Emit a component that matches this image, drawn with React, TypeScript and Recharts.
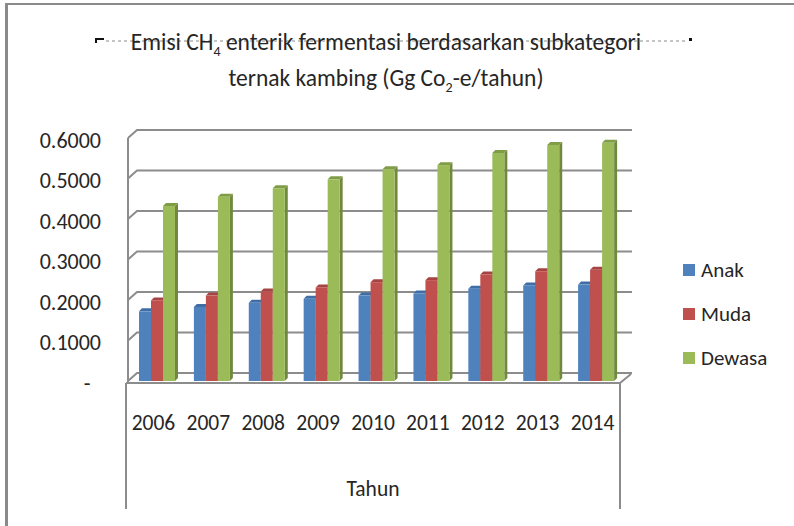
import React from 'react';
import { BarChart, Bar, XAxis, YAxis, CartesianGrid, Customized } from 'recharts';

// data
const years = ['2006', '2007', '2008', '2009', '2010', '2011', '2012', '2013', '2014'];
const anak = [0.172, 0.183, 0.193, 0.203, 0.211, 0.216, 0.228, 0.236, 0.238];
const muda = [0.199, 0.211, 0.221, 0.231, 0.244, 0.249, 0.263, 0.271, 0.275];
const dewasa = [0.432, 0.455, 0.476, 0.498, 0.523, 0.533, 0.563, 0.583, 0.588];
const yTicks = [0, 0.1, 0.2, 0.3, 0.4, 0.5, 0.6];

const SERIES = [
  { key: 'Anak', values: anak, color: '#4F81BD', side: '#385D8A', top: '#3F6DA5' },
  { key: 'Muda', values: muda, color: '#C0504D', side: '#8C3836', top: '#A54442' },
  { key: 'Dewasa', values: dewasa, color: '#9BBB59', side: '#71893F', top: '#7F9C47' },
];

const data = years.map((year, i) => {
  const row: Record<string, string | number> = { year };
  SERIES.forEach(s => { row[s.key] = s.values[i]; });
  return row;
});

const W = 794;
const H = 526;
const PLOT = { left: 126, right: 620, top: 138, bottom: 381 };
const XAXIS_H = 30;
const FONT = 'Carlito, Calibri, Lato, sans-serif';
const GRID = '#8C8C8C';
const TEXT = '#262626';
const SHIFT = 4; // 3d offset of the front faces
const DEPTH = 3;

const make3dBar = (s: typeof SERIES[number]) => (props: any) => {
  const { x, y, width, height } = props;
  if (height == null || height <= 0) return <g />;
  const fx = x + SHIFT;
  return (
    <g>
      <polygon
        points={`${fx + width},${y} ${fx + width + DEPTH},${y - DEPTH} ${fx + width + DEPTH},${y + height - DEPTH} ${fx + width},${y + height}`}
        fill={s.side}
      />
      <polygon
        points={`${fx},${y} ${fx + DEPTH},${y - DEPTH} ${fx + width + DEPTH},${y - DEPTH} ${fx + width},${y}`}
        fill={s.top}
      />
      <rect x={fx} y={y} width={width} height={height} fill={s.color} />
    </g>
  );
};

const gridLine = (props: any) => {
  const { x1, x2, y1, key } = props;
  return (
    <path
      key={key}
      d={`M${x1 + 2},${y1} L${x1 + 11},${y1 - 8} L${x2 + 12},${y1 - 8}`}
      stroke={GRID}
      strokeWidth={2}
      fill="none"
    />
  );
};

const YTick = (props: any) => {
  const { y, payload } = props;
  const v = payload.value as number;
  if (v === 0) {
    return <text x={87} y={y + 2} dy="0.35em" textAnchor="middle" fill={TEXT} fontSize={22} fontFamily={FONT}>-</text>;
  }
  return (
    <text x={101} y={y + 2} dy="0.35em" textAnchor="end" fill={TEXT} fontSize={22} fontFamily={FONT}>
      {v.toFixed(4)}
    </text>
  );
};

const XTick = (props: any) => {
  const { x, payload } = props;
  return (
    <text x={x} y={422} dy="0.35em" textAnchor="middle" fill={TEXT} fontSize={21.5} fontFamily={FONT}>
      {payload.value}
    </text>
  );
};

const Frame = () => (
  <g>
    {/* left wall */}
    <line x1={128} y1={PLOT.top} x2={128} y2={PLOT.bottom + 1} stroke={GRID} strokeWidth={2} />
    {/* floor front edge + right slant */}
    <path d={`M${PLOT.left},${PLOT.bottom + 2} L${PLOT.right},${PLOT.bottom + 2} L${PLOT.right + 11},${PLOT.bottom - 7}`} stroke={GRID} strokeWidth={2} fill="none" />
    {/* category box */}
    <path d={`M${PLOT.left},${PLOT.bottom + 2} L${PLOT.left},509 M${PLOT.right},${PLOT.bottom + 2} L${PLOT.right},509`} stroke={GRID} strokeWidth={2} fill="none" />
    <text x={(PLOT.left + PLOT.right) / 2} y={488} dy="0.35em" textAnchor="middle" fill={TEXT} fontSize={21.5} fontFamily={FONT}>Tahun</text>
  </g>
);

const LegendBox = () => (
  <div style={{ position: 'absolute', left: 683, top: 257, fontFamily: FONT, fontSize: 21, color: TEXT }}>
    {SERIES.map((s, i) => (
      <div key={s.key} style={{ display: 'flex', alignItems: 'center', height: 26, marginBottom: i < SERIES.length - 1 ? 18 : 0 }}>
        <span style={{ width: 12, height: 12, background: s.color, display: 'inline-block', marginRight: 6 }} />
        <span>{s.key}</span>
      </div>
    ))}
  </div>
);

const subStyle: React.CSSProperties = { fontSize: 14, position: 'relative', top: 6 };

export default function App() {
  return (
    <div style={{ position: 'absolute', left: 0, top: 0, width: W, height: H, background: '#fff', overflow: 'hidden' }}>
      <div style={{ position: 'absolute', left: 5, top: 3, width: W, height: H, borderTop: '2px solid #8A8A8A', borderLeft: '3px solid #8A8A8A' }} />
      <svg style={{ position: 'absolute', left: 0, top: 0 }} width={W} height={60}>
        <path d="M96,43 L96,39 L104,39" stroke="#111" strokeWidth={2} fill="none" />
        <line x1={106} y1={41} x2={688} y2={41} stroke="#8A8A8A" strokeWidth={1} strokeDasharray="3 3" />
        <rect x={689} y={38} width={3} height={3} fill="#111" />
      </svg>
      <div style={{ position: 'absolute', left: 0, width: W - 22, top: 24, textAlign: 'center', fontFamily: FONT, fontSize: 23.5, color: TEXT, lineHeight: '36px' }}>
        <div style={{ height: 36 }}>Emisi CH<span style={subStyle}>4</span> enterik fermentasi berdasarkan subkategori</div>
        <div style={{ height: 36 }}>ternak kambing (Gg Co<span style={subStyle}>2</span>-e/tahun)</div>
      </div>
      <BarChart
        width={W}
        height={H}
        data={data}
        margin={{ top: PLOT.top, right: W - PLOT.right, bottom: H - PLOT.bottom - XAXIS_H, left: 26 }}
        barGap={0}
        barSize={12}
        style={{ position: 'absolute', left: 0, top: 0 }}
      >
        <CartesianGrid vertical={false} horizontal={gridLine} />
        <XAxis dataKey="year" axisLine={false} tickLine={false} tick={<XTick />} height={XAXIS_H} interval={0} />
        <YAxis width={100} domain={[0, 0.6]} ticks={yTicks} axisLine={false} tickLine={false} tick={<YTick />} interval={0} />
        {SERIES.map(s => (
          <Bar key={s.key} dataKey={s.key} isAnimationActive={false} shape={make3dBar(s)} />
        ))}
        <Customized component={<Frame />} />
      </BarChart>
      <LegendBox />
    </div>
  );
}
